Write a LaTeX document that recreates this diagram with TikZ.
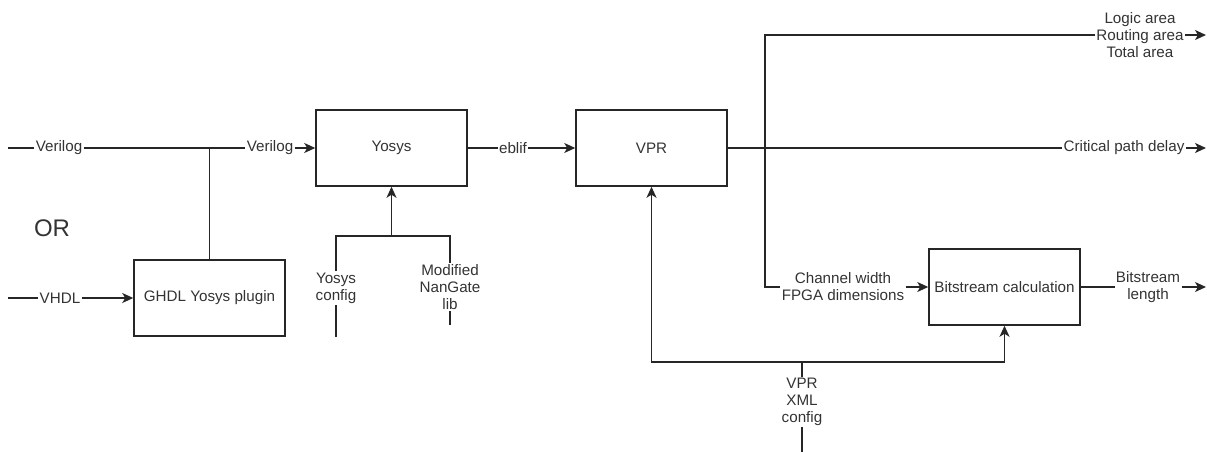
\documentclass[tikz,border=0pt]{standalone}
\usepackage{fontspec}
\setmainfont{Liberation Sans}
\usetikzlibrary{arrows.meta,positioning}

\tikzset{
  block/.style={draw=black!85, line width=1.5pt, minimum width=151pt, minimum height=76pt,
    inner sep=0pt, text=black!80, font=\fontsize{15.2}{17}\selectfont},
  wire/.style={draw=black!85, line width=1.5pt},
  flow/.style={wire, -{Stealth[length=11pt,width=10pt,inset=3pt]}},
  lbl/.style={inner sep=1.2pt, align=center, text=black!80, font=\fontsize{15.2}{17}\selectfont},
}

\begin{document}
\begin{tikzpicture}[x=1pt,y=-1pt]
  \useasboundingbox (0,0) rectangle (1207,452);

  % Tool boxes
  \node[block] (ghdl) at (209.5,298) {GHDL Yosys plugin};
  \node[block] (yosys) at (391.5,148) {Yosys};
  \node[block] (vpr) at (651.5,148) {VPR};
  \node[block] (bitcalc) at (1004.5,287) {Bitstream calculation};

  % Inputs
  \coordinate (vin) at (8,148);
  \coordinate (vhdlin) at (8,298);
  \coordinate (j1) at (209.5,148);
  \node[lbl] (lv1) at (59,148) {Verilog};
  \node[lbl] (lv2) at (270,148) {Verilog};
  \node[lbl] (lvh) at (60,298) {VHDL};
  \node[lbl, font=\fontsize{24}{28}\selectfont] (or) at (52,228) {OR};

  \draw[wire] (vin) -- (lv1) -- (j1);
  \draw[flow] (j1) -- (lv2) -- (yosys);
  \draw[wire] (j1) -- (ghdl);
  \draw[flow] (vhdlin) -- (lvh) -- (ghdl);

  % Yosys side inputs
  \node[lbl] (lycfg) at (336,288) {Yosys\\config};
  \node[lbl] (lylib) at (450,287) {Modified\\NanGate\\lib};
  \coordinate (ycfgend) at (336,337);
  \coordinate (ylibend) at (450,325);
  \coordinate (yc1) at (336,236);
  \coordinate (yc2) at (450,236);
  \coordinate (yj) at (yosys.south |- yc1);
  \draw[wire] (ycfgend) -- (lycfg) -- (yc1) -- (yc2) -- (lylib) -- (ylibend);
  \draw[flow] (yj) -- (yosys);

  % Yosys to VPR
  \node[lbl] (leblif) at (513,148) {eblif};
  \draw[flow] (yosys) -- (leblif) -- (vpr);

  % VPR outputs
  \coordinate (sp) at (765,148);
  \node[lbl] (lareas) at (1140,35) {Logic area\\Routing area\\Total area};
  \node[lbl] (lcrit) at (1124,148) {Critical path delay};
  \node[lbl] (lchan) at (843,287) {Channel width\\FPGA dimensions};
  \coordinate (areasend) at (1206,35);
  \coordinate (critend) at (1206,148);
  \draw[flow] (vpr) -- (lcrit) -- (critend);
  \draw[wire] (sp) |- (lareas);
  \draw[flow] (lareas) -- (areasend);
  \draw[wire] (sp) |- (lchan);
  \draw[flow] (lchan) -- (bitcalc);

  % Bitstream output
  \node[lbl] (lbits) at (1148,287) {Bitstream\\length};
  \coordinate (bitsend) at (1206,287);
  \draw[flow] (bitcalc) -- (lbits) -- (bitsend);

  % Architecture file
  \node[lbl] (lxml) at (802,402) {VPR\\XML\\config};
  \coordinate (xmlend) at (802,452);
  \coordinate (xj) at (802,362);
  \draw[wire] (xmlend) -- (lxml) -- (xj);
  \draw[flow] (xj) -| (vpr);
  \draw[flow] (xj) -| (bitcalc);
\end{tikzpicture}
\end{document}
